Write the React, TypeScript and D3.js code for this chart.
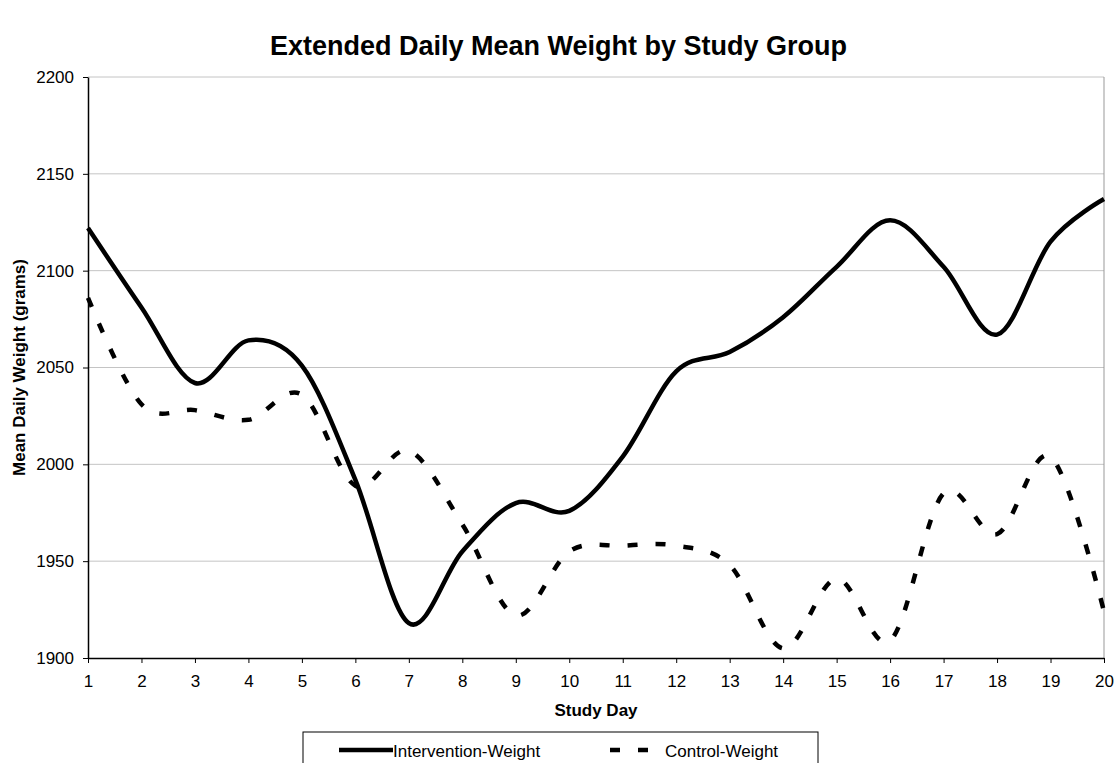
import React, { useEffect, useRef } from 'react';
import * as d3 from 'd3';

const days = [1, 2, 3, 4, 5, 6, 7, 8, 9, 10, 11, 12, 13, 14, 15, 16, 17, 18, 19, 20];
const interventionWeight = [2122, 2081, 2042, 2064, 2051, 1992, 1918, 1955, 1980, 1976, 2004, 2048, 2058, 2076, 2102, 2126, 2102, 2067, 2115, 2137];
const controlWeight = [2086, 2031, 2028, 2023, 2036, 1989, 2007, 1969, 1922, 1955, 1958, 1958, 1948, 1905, 1941, 1909, 1985, 1964, 2004, 1924];
const yTicks = [1900, 1950, 2000, 2050, 2100, 2150, 2200];

const W = 1117;
const H = 763;
const margin = { top: 77, right: 13, bottom: 105, left: 88 };

export default function App() {
  const ref = useRef<SVGSVGElement>(null);

  useEffect(() => {
    const svg = d3.select(ref.current);
    svg.selectAll('*').remove();
    const width = W - margin.left - margin.right;
    const height = H - margin.top - margin.bottom;
    const font = 'Arial, "Liberation Sans", sans-serif';

    const x = d3.scaleLinear().domain([1, 20]).range([0, width]);
    const y = d3.scaleLinear().domain([1900, 2200]).range([height, 0]);

    svg
      .append('text')
      .attr('x', W / 2)
      .attr('y', 55)
      .attr('text-anchor', 'middle')
      .attr('font-family', font)
      .attr('font-weight', 'bold')
      .attr('font-size', 27)
      .text('Extended Daily Mean Weight by Study Group');

    const g = svg.append('g').attr('transform', `translate(${margin.left},${margin.top})`);

    // gridlines
    g.selectAll('.grid')
      .data(yTicks.slice(1))
      .enter()
      .append('line')
      .attr('x1', 0)
      .attr('x2', width)
      .attr('y1', d => y(d))
      .attr('y2', d => y(d))
      .attr('stroke', '#c4c4c4')
      .attr('stroke-width', 1);

    // right frame
    g.append('line')
      .attr('x1', width)
      .attr('x2', width)
      .attr('y1', 0)
      .attr('y2', height)
      .attr('stroke', '#999')
      .attr('stroke-width', 1);

    const yAxis = g
      .append('g')
      .call(d3.axisLeft(y).tickValues(yTicks).tickSize(5).tickSizeOuter(0).tickFormat(d3.format('d')));
    const xAxis = g
      .append('g')
      .attr('transform', `translate(0,${height})`)
      .call(d3.axisBottom(x).tickValues(days).tickSize(5).tickSizeOuter(0).tickFormat(d3.format('d')));
    [yAxis, xAxis].forEach(a => {
      a.selectAll('text').attr('font-family', font).attr('font-size', 17).attr('fill', '#000');
      a.selectAll('line').attr('stroke', '#000');
      a.select('.domain').attr('stroke', '#000').attr('stroke-width', 1.5);
    });
    yAxis.selectAll('text').attr('x', -14);
    xAxis.selectAll('text').attr('y', 17);

    const line = d3
      .line<number>()
      .x((_, i) => x(days[i]))
      .y(d => y(d))
      .curve(d3.curveCatmullRom.alpha(0));

    g.append('path')
      .attr('d', line(interventionWeight))
      .attr('fill', 'none')
      .attr('stroke', '#000')
      .attr('stroke-width', 4.5);

    g.append('path')
      .attr('d', line(controlWeight))
      .attr('fill', 'none')
      .attr('stroke', '#000')
      .attr('stroke-width', 4.5)
      .attr('stroke-dasharray', '10,18');

    // axis titles
    svg
      .append('text')
      .attr('x', margin.left + width / 2)
      .attr('y', 716)
      .attr('text-anchor', 'middle')
      .attr('font-family', font)
      .attr('font-weight', 'bold')
      .attr('font-size', 17)
      .text('Study Day');

    svg
      .append('text')
      .attr('transform', `translate(25,${margin.top + height / 2}) rotate(-90)`)
      .attr('text-anchor', 'middle')
      .attr('font-family', font)
      .attr('font-weight', 'bold')
      .attr('font-size', 17)
      .text('Mean Daily Weight (grams)');

    // legend
    const leg = svg.append('g').attr('transform', 'translate(303,732)');
    leg.append('rect')
      .attr('width', 515)
      .attr('height', 40)
      .attr('fill', '#fff')
      .attr('stroke', '#000')
      .attr('stroke-width', 1);
    leg.append('line')
      .attr('x1', 36)
      .attr('x2', 90)
      .attr('y1', 18)
      .attr('y2', 18)
      .attr('stroke', '#000')
      .attr('stroke-width', 4.5);
    leg.append('text')
      .attr('x', 90)
      .attr('y', 25)
      .attr('font-family', font)
      .attr('font-size', 17)
      .text('Intervention-Weight');
    leg.append('line')
      .attr('x1', 307)
      .attr('x2', 346)
      .attr('y1', 18)
      .attr('y2', 18)
      .attr('stroke', '#000')
      .attr('stroke-width', 4.5)
      .attr('stroke-dasharray', '10,18');
    leg.append('text')
      .attr('x', 362)
      .attr('y', 25)
      .attr('font-family', font)
      .attr('font-size', 17)
      .text('Control-Weight');
  }, []);

  return <svg ref={ref} width={W} height={H} style={{ display: 'block', position: 'absolute', left: 0, top: 0 }} />;
}
